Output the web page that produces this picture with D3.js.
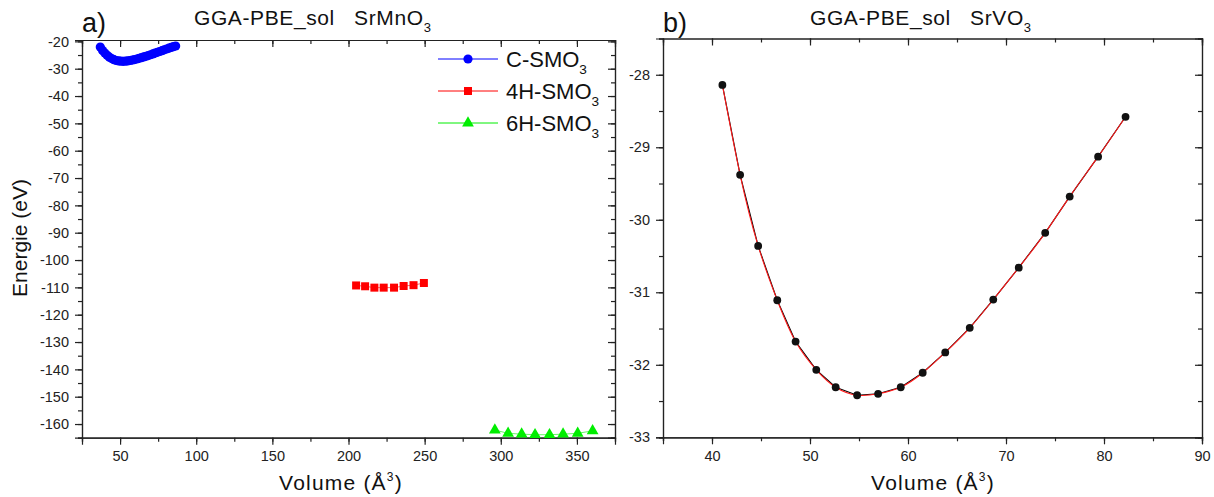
<!DOCTYPE html>
<html><head><meta charset="utf-8">
<script src="https://cdn.jsdelivr.net/npm/d3@7"></script>
<style>
body{margin:0;background:#fff;}
svg{display:block;font-family:"Liberation Sans",Arial,sans-serif;}
text{white-space:pre;}
.tick text{font-size:14.5px;fill:#222;font-family:"Liberation Sans",Arial,sans-serif;}
.tick line,.domain{stroke:#222;stroke-width:1.2;}
</style>
</head><body>
<svg id="c" width="1214" height="497"></svg>
<script>
// ---------- Data: panel a) SrMnO3 ----------
const cVol = [37,38.5,40,41.5,43,44.5,46,47.5,49,50.5,52,53.5,55,56.5,58,59.5,61,62.5,64,65.5,67,68.5,70,71.5,73,74.5,76,77.5,79,80.5,82,83.5,85,86.5];
const cE   = [-22.1,-23.3,-24.3,-25.1,-25.8,-26.3,-26.7,-27.0,-27.15,-27.25,-27.3,-27.25,-27.15,-27.0,-26.85,-26.65,-26.45,-26.2,-25.95,-25.7,-25.45,-25.2,-24.9,-24.6,-24.3,-24.0,-23.7,-23.4,-23.1,-22.8,-22.5,-22.2,-21.95,-21.7];
const h4Vol = [205.0,210.9,217.0,223.1,229.9,236.2,242.7,249.5];
const h4E   = [-109.3,-109.6,-110.1,-110.1,-110.1,-109.5,-109.2,-108.4];
const h6Vol = [296.1,304.8,313.7,322.5,332.0,340.9,350.5,360.3];
const h6E   = [-162.2,-163.4,-163.7,-163.9,-163.9,-163.7,-163.4,-162.5];
const seriesNames = ["C-SMO","4H-SMO","6H-SMO"];
const seriesColors = ["#0000ff","#ff0000","#00ee00"];
const aXTicks = [50,100,150,200,250,300,350];
const aYTicks = [-20,-30,-40,-50,-60,-70,-80,-90,-100,-110,-120,-130,-140,-150,-160];

// ---------- Data: panel b) SrVO3 ----------
const vVol = [41.06,42.87,44.71,46.66,48.53,50.64,52.62,54.81,56.95,59.26,61.5,63.8,66.3,68.7,71.3,74.0,76.5,79.4,82.2];
const vE   = [-28.14,-29.38,-30.36,-31.11,-31.68,-32.07,-32.31,-32.42,-32.40,-32.31,-32.11,-31.83,-31.49,-31.10,-30.66,-30.18,-29.68,-29.13,-28.58];
const bXTicks = [40,50,60,70,80,90];
const bYTicks = [-28,-29,-30,-31,-32,-33];

const svg = d3.select("#c");

function range(a,b,s){const r=[];for(let v=a;v<=b+1e-9;v+=s)r.push(+v.toFixed(6));return r;}

function axes(x,y,xMaj,xMin,yMaj,yMin){
  const [x0,x1]=x.range(), [y0,y1]=y.range();
  const fmt=d=>String(d);
  svg.append("g").attr("transform",`translate(0,${y0})`)
    .call(d3.axisBottom(x).tickValues(xMin).tickSize(4).tickFormat(""));
  svg.append("g").attr("transform",`translate(0,${y0})`)
    .call(d3.axisBottom(x).tickValues(xMaj).tickSize(7).tickPadding(6).tickFormat(fmt));
  svg.append("g").attr("transform",`translate(0,${y1})`)
    .call(d3.axisTop(x).tickValues(xMin).tickSize(-4).tickFormat(""));
  svg.append("g").attr("transform",`translate(0,${y1})`)
    .call(d3.axisTop(x).tickValues(xMaj).tickSize(-7).tickFormat(""));
  svg.append("g").attr("transform",`translate(${x0},0)`)
    .call(d3.axisLeft(y).tickValues(yMin).tickSize(4).tickFormat(""));
  svg.append("g").attr("transform",`translate(${x0},0)`)
    .call(d3.axisLeft(y).tickValues(yMaj).tickSize(7).tickPadding(6).tickFormat(fmt));
  svg.append("g").attr("transform",`translate(${x1},0)`)
    .call(d3.axisRight(y).tickValues(yMin).tickSize(-4).tickFormat(""));
  svg.append("g").attr("transform",`translate(${x1},0)`)
    .call(d3.axisRight(y).tickValues(yMaj).tickSize(-7).tickFormat(""));
  svg.selectAll(".domain").attr("stroke","#222");
}

function subText(x,y,main,sub,size,anchor){
  const t=svg.append("text").attr("x",x).attr("y",y).attr("font-size",size).attr("fill","#111").attr("text-anchor",anchor||"start");
  t.append("tspan").text(main);
  t.append("tspan").attr("font-size",size*0.62).attr("dy",size*0.32).text(sub);
  return t;
}
function volLabel(cx,y){
  const t=svg.append("text").attr("x",cx).attr("y",y).attr("font-size",21).attr("fill","#111")
    .attr("text-anchor","middle").attr("letter-spacing",1.2);
  t.append("tspan").text("Volume (Å");
  t.append("tspan").attr("font-size",12).attr("dy",-9).text("3");
  t.append("tspan").attr("dy",9).text(")");
}

// ================= Panel a =================
const xa = d3.scaleLinear().domain([25,375]).range([82,615]);
const ya = d3.scaleLinear().domain([-165,-19.5]).range([437.7,40]);
axes(xa,ya,aXTicks,range(25,375,25),aYTicks,range(-165,-20,5));

const lineA = d3.line().x(d=>xa(d[0])).y(d=>ya(d[1]));
const cPts = cVol.map((v,i)=>[v,cE[i]]);
const h4Pts = h4Vol.map((v,i)=>[v,h4E[i]]);
const h6Pts = h6Vol.map((v,i)=>[v,h6E[i]]);

svg.append("path").attr("d",lineA(cPts)).attr("fill","none").attr("stroke",seriesColors[0]).attr("stroke-width",1);
svg.selectAll(".cpt").data(cPts).enter().append("circle")
  .attr("cx",d=>xa(d[0])).attr("cy",d=>ya(d[1])).attr("r",4.6).attr("fill",seriesColors[0]);

svg.append("path").attr("d",lineA(h4Pts)).attr("fill","none").attr("stroke",seriesColors[1]).attr("stroke-width",1).attr("opacity",0.6);
svg.selectAll(".h4pt").data(h4Pts).enter().append("rect")
  .attr("x",d=>xa(d[0])-4).attr("y",d=>ya(d[1])-4).attr("width",8).attr("height",8).attr("fill",seriesColors[1]);

svg.append("path").attr("d",lineA(h6Pts)).attr("fill","none").attr("stroke",seriesColors[2]).attr("stroke-width",1).attr("opacity",0.6);
const tri = d3.symbol().type(d3.symbolTriangle).size(60);
svg.selectAll(".h6pt").data(h6Pts).enter().append("path")
  .attr("d",tri).attr("transform",d=>`translate(${xa(d[0])},${ya(d[1])})`).attr("fill",seriesColors[2]);

// legend
const legY=[59,91,123];
seriesNames.forEach((n,i)=>{
  svg.append("line").attr("x1",438).attr("x2",498).attr("y1",legY[i]).attr("y2",legY[i])
    .attr("stroke",seriesColors[i]).attr("stroke-width",1);
  if(i===0) svg.append("circle").attr("cx",468).attr("cy",legY[i]).attr("r",4.6).attr("fill",seriesColors[i]);
  if(i===1) svg.append("rect").attr("x",464).attr("y",legY[i]-4).attr("width",8).attr("height",8).attr("fill",seriesColors[i]);
  if(i===2) svg.append("path").attr("d",tri).attr("transform",`translate(468,${legY[i]})`).attr("fill",seriesColors[i]);
  subText(506,legY[i]+8,n,"3",22);
});

// titles
svg.append("text").attr("x",82).attr("y",32).attr("font-size",27).attr("fill","#111").text("a)");
subText(194,25,"GGA-PBE_sol   SrMnO","3",21).attr("letter-spacing",0.6);
svg.append("text").attr("transform","translate(27,238) rotate(-90)").attr("text-anchor","middle")
  .attr("font-size",21).attr("fill","#111").text("Energie (eV)");
volLabel(341,490);

// ================= Panel b =================
const xb = d3.scaleLinear().domain([35,90]).range([663,1202]);
const yb = d3.scaleLinear().domain([-33,-27.5]).range([437.3,38.5]);
axes(xb,yb,bXTicks,range(35,90,5),bYTicks,range(-33,-27.5,0.5));

const vPts = vVol.map((v,i)=>[v,vE[i]]);
const lineB = d3.line().x(d=>xb(d[0])).y(d=>yb(d[1]));
svg.append("path").attr("d",lineB(vPts)).attr("fill","none").attr("stroke","#000").attr("stroke-width",1.1);
svg.append("path").attr("d",lineB.curve(d3.curveNatural)(vPts)).attr("fill","none").attr("stroke","#ff1a1a").attr("stroke-width",1.1);
svg.selectAll(".vpt").data(vPts).enter().append("circle")
  .attr("cx",d=>xb(d[0])).attr("cy",d=>yb(d[1])).attr("r",3.9).attr("fill","#111");

svg.append("text").attr("x",663).attr("y",32).attr("font-size",27).attr("fill","#111").text("b)");
subText(810,25,"GGA-PBE_sol   SrVO","3",21).attr("letter-spacing",0.6);
volLabel(933,490);
</script>
</body></html>
